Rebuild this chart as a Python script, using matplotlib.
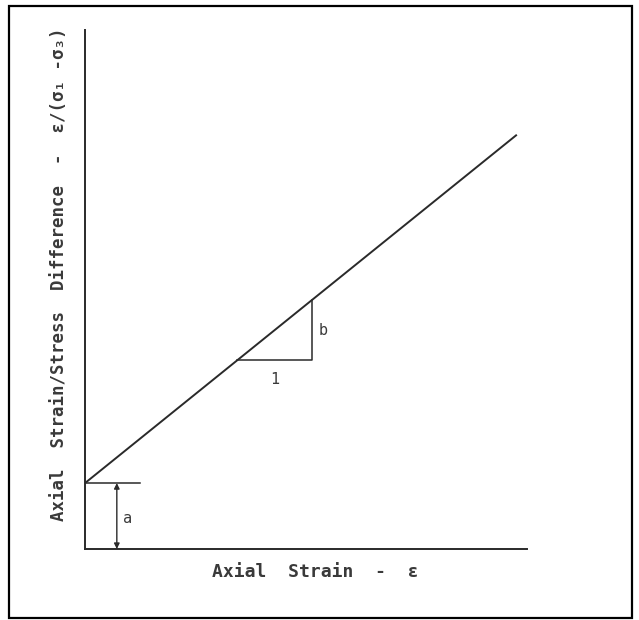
import matplotlib
matplotlib.use("Agg")
import matplotlib.pyplot as plt
from matplotlib.patches import Rectangle

# Schematic hyperbolic model: eps/(s1-s3) = a + b*eps
intercept_a = 1.27
slope_b = 0.687
line_x = [0.0, 9.77]
tri_x = [3.44, 5.14]
tick_len_x = 1.24
arrow_x = 0.72
xlim = (0, 10)
ylim = (0, 10)

xlabel = "Axial  Strain  -  ε"
ylabel = "Axial  Strain/Stress  Difference  -  ε/(σ₁ -σ₃)"

ink = "#2a2a2a"
txt = "#3a3a3a"
fam = ["DejaVu Sans Mono", "DejaVu Sans"]

fig = plt.figure(figsize=(6.39, 6.20), dpi=100)
fig.patches.append(Rectangle((9/639, 2/620), 623/639, 612/620, transform=fig.transFigure,
                             fill=False, edgecolor="black", linewidth=1.6))

ax = fig.add_axes([85/639, 71/620, 442/639, 519/620])
ax.set_xlim(*xlim)
ax.set_ylim(*ylim)
for s in ["top", "right"]:
    ax.spines[s].set_visible(False)
for s in ["left", "bottom"]:
    ax.spines[s].set_color(ink)
    ax.spines[s].set_linewidth(1.4)
ax.set_xticks([])
ax.set_yticks([])
ax.patch.set_alpha(0)

ly = [intercept_a + slope_b * x for x in line_x]
ax.plot(line_x, ly, color=ink, lw=1.4, solid_capstyle="butt")

# slope triangle
y0 = intercept_a + slope_b * tri_x[0]
y1 = intercept_a + slope_b * tri_x[1]
ax.plot([tri_x[0], tri_x[1], tri_x[1]], [y0, y0, y1], color=ink, lw=1.1)
ax.text(tri_x[1] + 0.26, (y0 + y1) / 2, "b", fontsize=11, color=txt, ha="center", va="center",
        family=fam)
ax.text((tri_x[0] + tri_x[1]) / 2, y0 - 0.36, "1", fontsize=11, color=txt, ha="center", va="center",
        family=fam)

# intercept a
ax.plot([0, tick_len_x], [intercept_a, intercept_a], color=ink, lw=1.1)
ax.annotate("", xy=(arrow_x, 0), xytext=(arrow_x, intercept_a),
            arrowprops=dict(arrowstyle="<|-|>", color=ink, lw=1.0, mutation_scale=8,
                            shrinkA=0, shrinkB=0))
ax.text(arrow_x + 0.25, intercept_a * 0.47, "a", fontsize=11, color=txt, ha="center", va="center",
        family=fam)

fig.text(315/639, 1 - 572/620, xlabel, fontsize=13, color=txt, ha="center", va="center",
         family=fam, weight="bold")
fig.text(59/639, 1 - 274/620, ylabel, fontsize=12.5, color=txt, ha="center", va="center",
         rotation=90, family=fam, weight="bold")

fig.savefig("out.png", dpi=100)
